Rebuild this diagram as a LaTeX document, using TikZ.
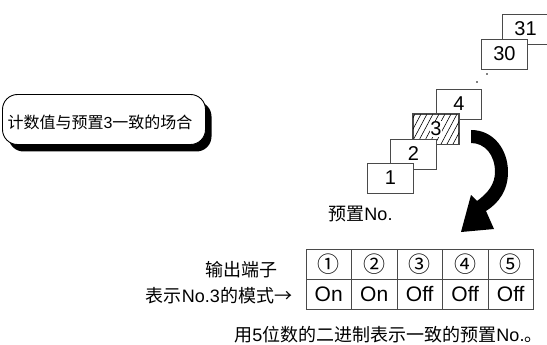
\documentclass[tikz,border=0pt]{standalone}
\usepackage{fontspec}
\setmainfont{Liberation Sans}
\newfontfamily\cjk{Noto Sans CJK SC}
\usetikzlibrary{shadows,calc}
\definecolor{linegray}{HTML}{4A4A4A}
\tikzset{
  stairbox/.style={draw=linegray, line width=0.9pt, fill=white, minimum width=45.5pt, minimum height=30pt, inner sep=0pt, font=\fontsize{20}{22}\selectfont},
  cellbox/.style={draw=linegray, line width=0.9pt, minimum width=45.5pt, minimum height=30pt, inner sep=0pt},
  circnum/.style={font=\cjk\fontsize{22}{24}\selectfont},
  onoff/.style={font=\fontsize{21}{23}\selectfont},
  lbl/.style={inner sep=0pt, font=\fontsize{18}{20}\selectfont},
  condbox/.style={draw=black, line width=0.9pt, fill=white, rounded corners=15pt, minimum width=203pt, minimum height=50pt,
     drop shadow={shadow xshift=6pt, shadow yshift=-7pt, fill=black, opacity=1}},
  hatch/.style={line width=0.6pt, black}
}
\begin{document}
\begin{tikzpicture}[x=1pt,y=-1pt]
\useasboundingbox (0,0) rectangle (547,345);
\fill[white] (0,0) rectangle (547,345);

% condition box
\node[condbox] (cond) at (104,119.5) {};
\node[inner sep=0pt, font=\fontsize{16}{18}\selectfont] (condtext) at (100,122) {{\cjk 计数值与预置}3{\cjk 一致的场合}};

% stair of preset boxes
\begin{scope}
\clip (0,0) rectangle (547,345);
\node[stairbox] (b31) at (525.5,29) {31};
\end{scope}
\node[stairbox] (b30) at (504.5,54) {30};
\node[stairbox] (b4) at (459,104) {4};
\node[stairbox] (b3) at (436,129) {};
\begin{scope}
\clip (b3.south west) rectangle (b3.north east);
\foreach \i in {0,...,12} \draw[hatch] ($(b3.south west)+(\i*6-14,0)$) -- ++(16,-30);
\end{scope}
\node[fill=white, inner sep=0.5pt, font=\fontsize{20}{22}\selectfont] (n3) at (b3) {3};
\draw[linegray, line width=0.9pt] (b3.south west) rectangle (b3.north east);
\node[stairbox] (b2) at (413.5,154) {2};
\node[stairbox] (b1) at (390.5,178) {1};

% dots
\fill (487,74) circle (0.9pt);
\fill (477,82) circle (0.9pt);

% curved arrow
\fill[black] (471,130) .. controls (494,130) and (508,150) .. (508,172)
  .. controls (508,190) and (499,203) .. (486,211) -- (494,229) -- (461,232) -- (471,195) -- (477,201)
  .. controls (488,193) and (495,184) .. (495,172)
  .. controls (495,155) and (485,143) .. (471,143) -- cycle;

\node[lbl] (presetno) at (360.5,214) {{\cjk 预置}No.};

% table
\foreach \k/\c/\v in {1/①/On,2/②/On,3/③/Off,4/④/Off,5/⑤/Off} {
  \node[cellbox, circnum] (c\k) at ({306+45.5*(\k-0.5)},264) {\c};
  \node[cellbox, onoff] (v\k) at ({306+45.5*(\k-0.5)},294) {\v};
}
\node[lbl] (outterm) at (241,270) {{\cjk 输出端子}};
\node[lbl] (pattern) at (219,296) {{\cjk 表示}No.3{\cjk 的模式→}};
\node[lbl] (note) at (388.5,335) {{\cjk 用}5{\cjk 位数的二进制表示一致的预置}No.{\cjk 。}};
\end{tikzpicture}
\end{document}
